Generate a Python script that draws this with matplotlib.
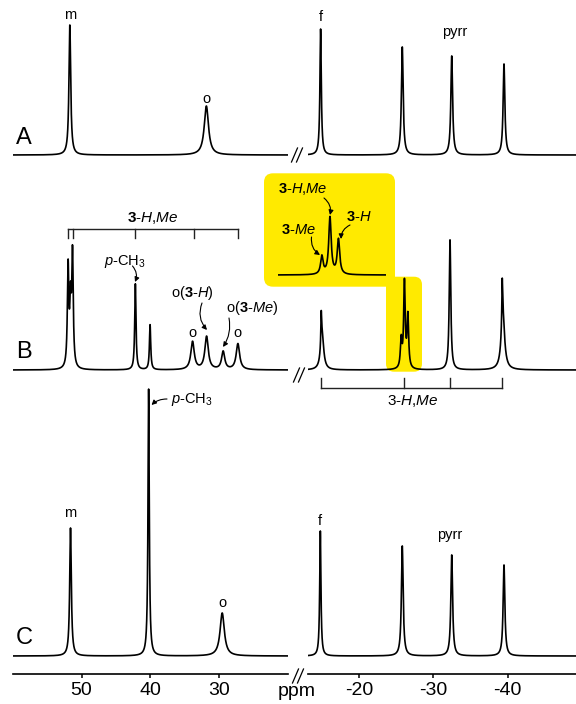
import numpy as np
import matplotlib
matplotlib.use('Agg')
import matplotlib.pyplot as plt
from matplotlib.patches import FancyBboxPatch

plt.rcParams['font.family'] = ['Liberation Sans', 'DejaVu Sans']
plt.rcParams['mathtext.fontset'] = 'custom'
plt.rcParams['mathtext.rm'] = 'Liberation Sans'
plt.rcParams['mathtext.it'] = 'Liberation Sans:italic'
plt.rcParams['mathtext.bf'] = 'Liberation Sans:bold'
plt.rcParams['axes.unicode_minus'] = False

# ---- peak tables: shift (ppm), height (px), FWHM (ppm) ----
A_left_pos = [51.7, 31.86]
A_left_h = [130, 49]
A_left_w = [0.30, 0.75]
A_right_pos = [-14.8, -25.8, -32.46, -39.5]
A_right_h = [126, 108, 99, 91]
A_right_w = [0.22, 0.28, 0.28, 0.28]

B_left_pos = [51.95, 51.6, 51.31, 42.18, 40.04, 33.87, 31.83, 29.42, 27.28]
B_left_h = [100, 60, 112, 86, 45, 28, 33, 18, 26]
B_left_w = [0.25, 0.25, 0.25, 0.22, 0.22, 0.6, 0.6, 0.55, 0.6]
B_right_pos = [-14.88, -15.0, -25.65, -26.09, -26.55, -32.23, -39.26, -39.35]
B_right_h = [30, 36, 28, 86, 52, 130, 42, 55]
B_right_w = [0.12, 0.5, 0.25, 0.25, 0.25, 0.25, 0.12, 0.55]

C_left_pos = [51.6, 40.25, 29.56]
C_left_h = [128, 267, 43]
C_left_w = [0.28, 0.22, 0.75]
C_right_pos = [-14.76, -25.8, -32.46, -39.5]
C_right_h = [125, 110, 101, 91]
C_right_w = [0.2, 0.28, 0.28, 0.28]

# zoomed inset of the 3-H,Me pyrrole signal
inset_pos = [-25.65, -26.09, -26.55]
inset_h = [18, 57, 35]
inset_w = [0.16, 0.16, 0.16]

# bracket positions (ppm)
B_bracket_left = [51.95, 51.3, 42.18, 33.68, 27.28]
B_bracket_right = [-14.85, -26.09, -32.23, -39.26]

left_ticks = [50, 40, 30]
right_ticks = [-20, -30, -40]

# baselines of the stacked traces (pixel rows)
base_A, base_B, base_C = 155, 370, 656

W, H = 576, 704
fig = plt.figure(figsize=(W / 100, H / 100), dpi=100)


def spectrum(x, pos, h, w):
    y = np.zeros_like(x)
    for p, a, fw in zip(pos, h, w):
        y += a / (1 + ((x - p) / (fw / 2)) ** 2)
    return y


def spec_axes(x0, x1, xlim, zorder=1, bottom=True):
    ax = fig.add_axes([x0 / W, 30 / H, (x1 - x0) / W, 674 / H])
    ax.set_xlim(xlim)
    ax.set_ylim(674, 0)
    ax.patch.set_alpha(0)
    ax.set_zorder(zorder)
    for s in ['top', 'right', 'left']:
        ax.spines[s].set_visible(False)
    ax.spines['bottom'].set_linewidth(1.2)
    ax.set_yticks([])
    ax.tick_params(axis='x', direction='out', length=3, width=1.1,
                   labelsize=14, pad=3)
    if not bottom:
        ax.spines['bottom'].set_visible(False)
        ax.set_xticks([])
    return ax


# background layer in pixel units (yellow highlight, break marks)
bg = fig.add_axes([0, 30 / H, 1, 674 / H])
bg.set_xlim(0, W)
bg.set_ylim(674, 0)
bg.axis('off')
bg.set_zorder(0)

yellow = '#FFEA00'
bg.add_patch(FancyBboxPatch((264, 173.3), 131, 113.4,
                            boxstyle='round,pad=0,rounding_size=9',
                            fc=yellow, ec='none'))
bg.add_patch(FancyBboxPatch((386, 276.7), 36, 95,
                            boxstyle='round,pad=0,rounding_size=8',
                            fc=yellow, ec='none'))

for bx, by in [(297, 155), (299, 375), (298, 676)]:
    for dx in (-2.5, 2.5):
        bg.plot([bx + dx - 3, bx + dx + 3], [by + 7, by - 7], color='k',
                lw=0.9, clip_on=False)

axL = spec_axes(12.7, 288, (60, 20))
axR = spec_axes(308, 576, (-13.1, -49.2))
axL.set_xticks(left_ticks)
axR.set_xticks(right_ticks)

xl = np.linspace(60, 20, 8000)
xr = np.linspace(-13.1, -49.2, 8000)

lw = 1.2
for base, lp, lh, lwid, rp, rh, rwid in [
        (base_A, A_left_pos, A_left_h, A_left_w, A_right_pos, A_right_h, A_right_w),
        (base_B, B_left_pos, B_left_h, B_left_w, B_right_pos, B_right_h, B_right_w),
        (base_C, C_left_pos, C_left_h, C_left_w, C_right_pos, C_right_h, C_right_w)]:
    axL.plot(xl, base - spectrum(xl, lp, lh, lwid), color='k', lw=lw)
    axR.plot(xr, base - spectrum(xr, rp, rh, rwid), color='k', lw=lw)

# inset trace
axI = spec_axes(278, 386, (-23.27, -29.13), zorder=2, bottom=False)
xi = np.linspace(-23.27, -29.13, 2000)
axI.plot(xi, 275 - spectrum(xi, inset_pos, inset_h, inset_w), color='k', lw=lw)

fs_small = 10.5
arrow = dict(arrowstyle='-|>', lw=0.8, color='k', mutation_scale=7,
             shrinkA=0, shrinkB=0)
hme_bold = r'$\mathbf{3}$-$\mathit{H}$,$\mathit{Me}$'

# panel letters
for lab, y in [('A', 138), ('B', 352), ('C', 638)]:
    bg.text(24, y, lab, fontsize=17, ha='center', va='center')

# panel A labels
axL.text(A_left_pos[0], 15, 'm', fontsize=fs_small, ha='center', va='center')
axL.text(A_left_pos[1], 99, 'o', fontsize=fs_small, ha='center', va='center')
axR.text(A_right_pos[0], 17, 'f', fontsize=fs_small, ha='center', va='center')
bg.text(455, 32, 'pyrr', fontsize=fs_small, ha='center', va='center')

# panel B left bracket
axL.plot([B_bracket_left[0], B_bracket_left[-1]], [229.3, 229.3], color='#222222', lw=1.0)
for p in B_bracket_left:
    axL.plot([p, p], [229.3, 238], color='#222222', lw=1.0)
bg.text(153, 218, hme_bold, fontsize=11, ha='center', va='center')

bg.text(125, 261, r'$\mathit{p}$-CH$_3$', fontsize=fs_small, ha='center', va='center')
bg.annotate('', xy=(135, 282), xytext=(132.5, 266),
            arrowprops=dict(arrow, connectionstyle='arc3,rad=-0.3'))
bg.text(192, 293, r'o($\mathbf{3}$-$\mathit{H}$)', fontsize=fs_small, ha='center', va='center')
bg.annotate('', xy=(207, 330), xytext=(202, 303),
            arrowprops=dict(arrow, connectionstyle='arc3,rad=0.3'))
bg.text(252, 308, r'o($\mathbf{3}$-$\mathit{Me}$)', fontsize=fs_small, ha='center', va='center')
bg.annotate('', xy=(223, 347), xytext=(229, 318),
            arrowprops=dict(arrow, connectionstyle='arc3,rad=-0.2'))
axL.text(B_left_pos[5], 333, 'o', fontsize=fs_small, ha='center', va='center')
axL.text(B_left_pos[8], 333, 'o', fontsize=fs_small, ha='center', va='center')

# panel B inset labels
bg.text(303, 189, hme_bold, fontsize=fs_small, ha='center', va='center')
bg.annotate('', xy=(330, 215), xytext=(324, 198),
            arrowprops=dict(arrow, connectionstyle='arc3,rad=-0.3'))
bg.text(298, 230, r'$\mathbf{3}$-$\mathit{Me}$', fontsize=fs_small, ha='center', va='center')
bg.annotate('', xy=(320, 255), xytext=(311.5, 237),
            arrowprops=dict(arrow, connectionstyle='arc3,rad=0.3'))
bg.text(359, 217, r'$\mathbf{3}$-$\mathit{H}$', fontsize=fs_small, ha='center', va='center')
bg.annotate('', xy=(341, 239), xytext=(350, 225),
            arrowprops=dict(arrow, connectionstyle='arc3,rad=0.3'))

# panel B right bracket
axR.plot([B_bracket_right[0], B_bracket_right[-1]], [387.7, 387.7], color='#222222', lw=1.0)
for p in B_bracket_right:
    axR.plot([p, p], [387.7, 378], color='#222222', lw=1.0)
bg.text(413, 401, r'3-$\mathit{H}$,$\mathit{Me}$', fontsize=11, ha='center', va='center')

# panel C labels
axL.text(C_left_pos[0], 513, 'm', fontsize=fs_small, ha='center', va='center')
axL.text(C_left_pos[2], 603, 'o', fontsize=fs_small, ha='center', va='center')
bg.text(171, 400, r'$\mathit{p}$-CH$_3$', fontsize=fs_small, ha='left', va='center')
bg.annotate('', xy=(151.5, 405), xytext=(167, 399),
            arrowprops=dict(arrow, connectionstyle='arc3,rad=0.2'))
axR.text(C_right_pos[0], 521, 'f', fontsize=fs_small, ha='center', va='center')
bg.text(450, 535, 'pyrr', fontsize=fs_small, ha='center', va='center')

# axis unit
bg.text(297, 691, 'ppm', fontsize=14, ha='center', va='center', clip_on=False)

fig.savefig('out.png', dpi=100, facecolor='white')
